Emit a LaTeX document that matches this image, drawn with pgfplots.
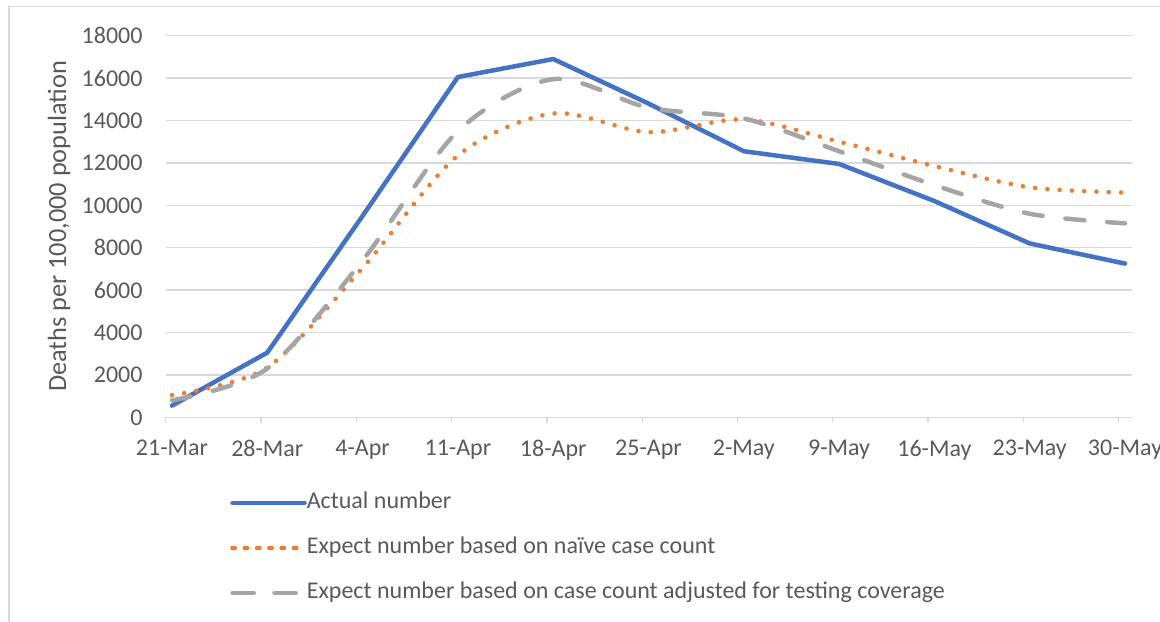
\documentclass[border=0pt]{standalone}
\usepackage{fontspec}
\setmainfont{Carlito}
\usepackage{pgfplots}
\pgfplotsset{compat=1.18}
\definecolor{cblue}{HTML}{4472C4}
\definecolor{corange}{HTML}{ED7D31}
\definecolor{cgray}{HTML}{A5A5A5}
\definecolor{cgrid}{HTML}{D9D9D9}
\definecolor{ctext}{HTML}{595959}
\begin{document}
\fontsize{24bp}{29bp}\selectfont
\begin{tikzpicture}
\path[use as bounding box] (0,0) rectangle (1160bp,622bp);
\draw[color=cgrid, line width=1.3bp] (9bp,-20bp) -- (9bp,615.3bp) -- (1180bp,615.3bp);
\begin{axis}[
  at={(165.7bp,204.7bp)}, anchor=south west,
  width=966bp, height=381.6bp, scale only axis,
  xmin=-0.066, xmax=10.07, ymin=0, ymax=18000,
  xtick={0,1,2,3,4,5,6,7,8,9,10},
  xticklabels={21-Mar,28-Mar,4-Apr,11-Apr,18-Apr,25-Apr,2-May,9-May,16-May,23-May,30-May},
  ytick={0,2000,4000,6000,8000,10000,12000,14000,16000,18000},
  ymajorgrids,
  major grid style={cgrid, line width=1.3bp},
  axis line style={draw=none},
  major tick length=0pt,
  xtick pos=bottom, ytick pos=left,
  extra x ticks={-0.066,0.934,1.934,2.934,3.934,4.934,5.934,6.934,7.934,8.934,9.934},
  extra x tick labels={},
  extra x tick style={major tick length=6bp, tick align=outside, grid=none, tick style={cgrid, line width=1.3bp}},
  scaled y ticks=false,
  /pgf/number format/1000 sep={},
  /pgf/number format/assume math mode=true,
  tick label style={font=\fontsize{24bp}{29bp}\selectfont, text=ctext},
  yticklabel style={anchor=east, inner sep=0pt, xshift=-23bp},
  xticklabel style={anchor=north, inner sep=0pt, yshift=-22.5bp},
  legend style={at={(rel axis cs:0,0)}, anchor=north west, xshift=64.3bp, yshift=-75bp,
    draw=none, fill=none, inner sep=0pt, row sep=24bp,
    cells={anchor=west},
    nodes={inner sep=0pt, text=ctext, text height=16bp, text depth=5bp, font=\fontsize{24bp}{29bp}\selectfont},
    /tikz/every even column/.append style={column sep=6bp}},
  legend cell align=left,
  legend image code/.code={\path (0bp,0bp) -- (72bp,0bp); \draw[#1] (2.25bp,0bp) -- (69.75bp,0bp);},
]
\addplot[color=cblue, line width=4.5bp, line join=round, line cap=round] coordinates {
(0,550) (1,3050) (2,9500) (3,16050) (4,16900) (5,14800) (6,12550) (7,11950) (8,10200) (9,8200) (10,7250)};
\addlegendentry{Actual number}
\addplot[color=corange, line width=4.6bp, line cap=round, dash pattern=on 0bp off 12.3bp, smooth] coordinates {
(0,1050) (1,2350) (2,7050) (3,12350) (4,14330) (5,13450) (6,14050) (7,13000) (8,11850) (9,10850) (10,10600)};
\addlegendentry{Expect number based on naïve case count}
\addplot[color=cgray, line width=4.5bp, line cap=round, dash pattern=on 19bp off 23bp, smooth] coordinates {
(0,800) (1,2300) (2,7400) (3,13500) (4,15950) (5,14600) (6,14100) (7,12550) (8,10950) (9,9600) (10,9150)};
\addlegendentry{Expect number based on case count adjusted for testing coverage}
\end{axis}
\node[rotate=90, anchor=center, text=ctext, inner sep=0pt, font=\fontsize{26.3bp}{31bp}\selectfont] at (59bp,395.6bp) {Deaths per 100,000 population};
\end{tikzpicture}
\end{document}
